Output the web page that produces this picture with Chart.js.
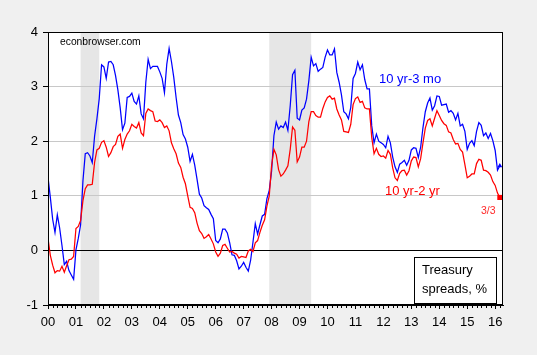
<!DOCTYPE html>
<html>
<head>
<meta charset="utf-8">
<script src="https://cdn.jsdelivr.net/npm/chart.js@4.4.1/dist/chart.umd.min.js"></script>
<style>
html,body{margin:0;padding:0;background:#f0f0f0;}
#wrap{width:537px;height:355px;}
</style>
</head>
<body>
<div id="wrap"><canvas id="c" width="537" height="355"></canvas></div>
<script>
// ---- data (monthly, Jan 2000 .. Mar 2016) ----
const startYear = 2000;
const tickLabels = ['00','01','02','03','04','05','06','07','08','09','10','11','12','13','14','15','16'];
const spread10y3m = [
  1.34, 0.97, 0.57, 0.33, 0.65, 0.41, 0.09,-0.26,-0.20,-0.37,-0.45,-0.53,
  0.01, 0.22, 0.47, 1.27, 1.77, 1.79, 1.73, 1.61, 2.09, 2.41, 2.78, 3.40,
  3.36, 3.15, 3.45, 3.46, 3.40, 3.20, 2.94, 2.61, 2.21, 2.33, 2.80, 2.82,
  2.88, 2.73, 2.68, 2.83, 2.50, 2.41, 3.08, 3.50, 3.33, 3.37, 3.37, 3.37,
  3.27, 3.15, 2.89, 3.41, 3.70, 3.46, 3.17, 2.80, 2.48, 2.34, 2.12, 2.04,
  1.89, 1.63, 1.76, 1.56, 1.30, 1.03, 0.96, 0.82, 0.78, 0.75, 0.66, 0.58,
  0.18, 0.14, 0.21, 0.39, 0.39, 0.32, 0.14,-0.08,-0.09,-0.19,-0.34,-0.29,
 -0.22,-0.31,-0.38,-0.18, 0.15, 0.49, 0.30, 0.47, 0.63, 0.66, 0.95, 1.10,
  1.45, 2.10, 2.35, 2.22, 2.28, 2.25, 2.35, 2.20, 2.65, 3.22, 3.30, 2.42,
  2.39, 2.57, 2.61, 2.77, 3.11, 3.54, 3.38, 3.42, 3.28, 3.32, 3.35, 3.54,
  3.67, 3.58, 3.58, 3.69, 3.26, 3.08, 2.85, 2.54, 2.50, 2.41, 2.62, 3.15,
  3.24, 3.45, 3.31, 3.40, 3.13, 2.96, 2.96, 2.28, 1.97, 2.13, 2.00, 1.97,
  1.94, 1.88, 2.09, 1.97, 1.71, 1.53, 1.43, 1.58, 1.61, 1.65, 1.56, 1.65,
  1.84, 1.88, 1.87, 1.70, 1.89, 2.25, 2.54, 2.70, 2.79, 2.57, 2.65, 2.83,
  2.82, 2.66, 2.67, 2.68, 2.53, 2.56, 2.51, 2.39, 2.51, 2.28, 2.31, 2.18,
  1.85, 1.96, 2.01, 1.92, 2.18, 2.34, 2.29, 2.10, 2.15, 2.05, 2.14, 2.01,
  1.83, 1.47, 1.55
];
const spread10y2y = [
  0.22,-0.09,-0.27,-0.41,-0.37,-0.38,-0.29,-0.40,-0.28,-0.17,-0.16,-0.11,
  0.40, 0.44, 0.55, 0.91, 1.13, 1.20, 1.20, 1.21, 1.61, 1.84, 1.87, 1.98,
  2.01, 1.89, 1.72, 1.79, 1.90, 1.94, 2.09, 2.13, 1.87, 2.03, 2.13, 2.19,
  2.31, 2.27, 2.24, 2.34, 2.15, 2.10, 2.51, 2.59, 2.56, 2.54, 2.37, 2.36,
  2.39, 2.34, 2.25, 2.28, 2.19, 1.97, 1.86, 1.77, 1.60, 1.52, 1.34, 1.22,
  1.00, 0.79, 0.77, 0.69, 0.50, 0.36, 0.31, 0.22, 0.25, 0.29, 0.21, 0.12,
 -0.03,-0.11,-0.05, 0.09, 0.11, 0.04,-0.03,-0.02,-0.05,-0.07,-0.14,-0.11,
 -0.12,-0.13,-0.01, 0.02,-0.02, 0.14, 0.18, 0.33, 0.46, 0.56, 0.81, 1.00,
  1.55, 1.85, 1.75, 1.48, 1.36, 1.40, 1.47, 1.55, 1.85, 2.26, 2.20, 1.62,
  1.71, 1.89, 1.89, 2.00, 2.36, 2.54, 2.54, 2.47, 2.44, 2.44, 2.60, 2.72,
  2.80, 2.83, 2.77, 2.79, 2.59, 2.48, 2.39, 2.18, 2.17, 2.16, 2.31, 2.67,
  2.78, 2.81, 2.71, 2.73, 2.61, 2.59, 2.59, 2.07, 1.77, 1.87, 1.76, 1.72,
  1.73, 1.69, 1.83, 1.76, 1.51, 1.33, 1.28, 1.41, 1.46, 1.47, 1.38, 1.46,
  1.64, 1.71, 1.70, 1.53, 1.68, 1.97, 2.24, 2.38, 2.41, 2.28, 2.42, 2.56,
  2.47, 2.38, 2.32, 2.29, 2.17, 2.15, 2.03, 1.95, 1.96, 1.85, 1.80, 1.57,
  1.33, 1.36, 1.40, 1.40, 1.59, 1.67, 1.65, 1.47, 1.46, 1.43, 1.38, 1.26,
  1.19, 1.05, 0.97
];
const recessionStarts = ['2001-03', '2007-12'];
const recessionEnds   = ['2001-11', '2009-06'];
const label3m = '10 yr-3 mo';
const label2y = '10 yr-2 yr';
const lastObsLabel = '3/3';
const sourceLabel = 'econbrowser.com';
const boxLines = ['Treasury', 'spreads, %'];

// ---- helpers ----
const monthIndex = s => { const [y, m] = s.split('-').map(Number); return (y - startYear) * 12 + (m - 1); };
const toPoints = arr => arr.map((v, i) => ({ x: i / 12, y: v }));
const FONT = 'Arial, "Liberation Sans", sans-serif';
Chart.defaults.font.family = FONT;

const lastIdx = spread10y2y.length - 1;

const decor = {
  id: 'decor',
  beforeDraw(chart) {
    const { ctx, chartArea: a, scales: { x } } = chart;
    ctx.save();
    ctx.fillStyle = '#f0f0f0';
    ctx.fillRect(0, 0, chart.width, chart.height);
    ctx.fillStyle = '#ffffff';
    ctx.fillRect(a.left, a.top, a.right - a.left, a.bottom - a.top);
    ctx.fillStyle = '#e6e6e6';
    recessionStarts.forEach((s, i) => {
      const x0 = x.getPixelForValue(monthIndex(s) / 12);
      const x1 = x.getPixelForValue(monthIndex(recessionEnds[i]) / 12);
      ctx.fillRect(x0, a.top, x1 - x0, a.bottom - a.top);
    });
    ctx.restore();
  },
  afterDraw(chart) {
    const { ctx, chartArea: a, scales: { x } } = chart;
    ctx.save();
    // minor ticks every two months
    ctx.strokeStyle = '#000';
    ctx.lineWidth = 1;
    ctx.beginPath();
    const maxM = Math.floor(x.max * 12);
    for (let m = 2; m <= maxM; m += 2) {
      if (m % 12 === 0) continue;
      const px = Math.round(x.getPixelForValue(m / 12)) + 0.5;
      ctx.moveTo(px, a.bottom);
      ctx.lineTo(px, a.bottom + 3);
    }
    ctx.stroke();
    // plot frame
    ctx.strokeRect(Math.round(a.left) + 0.5, Math.round(a.top) + 0.5,
                   Math.round(a.right - a.left) - 1, Math.round(a.bottom - a.top) - 1);
    // texts
    ctx.textBaseline = 'middle';
    ctx.textAlign = 'left';
    ctx.fillStyle = '#000';
    ctx.font = '10.3px ' + FONT;
    ctx.fillText(sourceLabel, 60, 42);
    ctx.font = '13px ' + FONT;
    ctx.fillStyle = '#0000ff';
    ctx.fillText(label3m, 379, 79);
    ctx.fillStyle = '#ff0000';
    ctx.fillText(label2y, 385, 191);
    ctx.font = '10.5px ' + FONT;
    ctx.fillStyle = '#ff2a2a';
    ctx.fillText(lastObsLabel, 481, 211);
    // legend box
    ctx.fillStyle = '#fff';
    ctx.fillRect(414.5, 257.5, 82, 46);
    ctx.strokeStyle = '#000';
    ctx.strokeRect(414.5, 257.5, 82, 46);
    ctx.fillStyle = '#000';
    ctx.font = '13px ' + FONT;
    ctx.fillText(boxLines[0], 422, 270);
    ctx.fillText(boxLines[1], 422, 289);
    ctx.restore();
  }
};

new Chart(document.getElementById('c'), {
  type: 'line',
  data: {
    datasets: [
      {
        label: label2y,
        data: toPoints(spread10y2y),
        borderColor: '#ff0000',
        backgroundColor: '#ff0000',
        borderWidth: 1.25,
        tension: 0,
        pointStyle: 'rect',
        pointRadius: ctx => ctx.dataIndex === lastIdx ? 3.6 : 0,
        pointBorderWidth: 0,
        pointHoverRadius: 0
      },
      {
        label: label3m,
        data: toPoints(spread10y3m),
        borderColor: '#0000ff',
        backgroundColor: '#0000ff',
        borderWidth: 1.25,
        tension: 0,
        pointStyle: 'triangle',
        pointRadius: ctx => ctx.dataIndex === spread10y3m.length - 1 ? 2.8 : 0,
        pointBorderWidth: 0,
        pointHoverRadius: 0
      }
    ]
  },
  options: {
    responsive: false,
    animation: false,
    events: [],
    layout: { padding: { left: 0, top: 32, right: 34, bottom: 0 } },
    plugins: { legend: { display: false }, tooltip: { enabled: false } },
    scales: {
      x: {
        type: 'linear',
        min: 0,
        max: 16.28,
        afterFit: s => { s.height = 50; },
        afterBuildTicks: s => { s.ticks = tickLabels.map((_, i) => ({ value: i })); },
        ticks: {
          autoSkip: false,
          maxRotation: 0,
          padding: 6,
          color: '#000',
          font: { size: 13 },
          callback: (v, i) => tickLabels[i]
        },
        grid: { display: true, drawOnChartArea: false, tickLength: 4, tickColor: '#000', color: '#000' },
        border: { display: true, color: '#000' }
      },
      y: {
        min: -1,
        max: 4,
        afterFit: s => { s.width = 48; },
        ticks: { stepSize: 1, padding: 5, color: '#000', font: { size: 13 } },
        grid: {
          color: c => c.tick && c.tick.value === 0 ? '#000' : '#c8c8c8',
          tickColor: '#000',
          tickLength: 5,
          lineWidth: 1
        },
        border: { display: true, color: '#000' }
      }
    }
  },
  plugins: [decor]
});
</script>
</body>
</html>
